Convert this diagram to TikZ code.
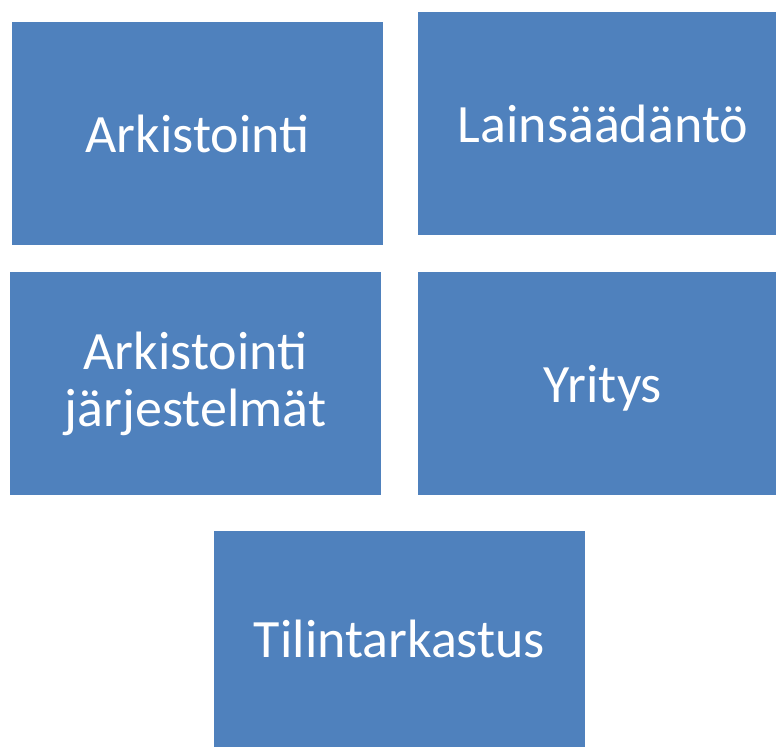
\documentclass[tikz,border=0pt]{standalone}
\usepackage{fontspec}
\setmainfont{Carlito}
\definecolor{boxblue}{HTML}{4F81BD}

\begin{document}
\begin{tikzpicture}[x=1pt, y=-1pt,
  box/.style={rectangle, fill=boxblue, text=white, inner sep=0pt, align=center,
    font=\fontsize{54}{57}\selectfont},
]

% canvas
\useasboundingbox (0,0) rectangle (776,747) ;

% upper row
\node[box, minimum width=371pt, minimum height=223pt] (arkistointi) at (197.5,133.5) {Arkistointi} ;
\node[box, minimum width=358pt, minimum height=223pt] (lainsaadanto) at (597,123.5) {\hspace*{12pt}Lainsäädäntö} ;

% middle row
\node[box, minimum width=371pt, minimum height=223pt] (jarjestelmat) at (195.5,383.5) {Arkistointi\\järjestelmät} ;
\node[box, minimum width=358pt, minimum height=223pt] (yritys) at (597,383.5) {\hspace*{12pt}\raisebox{-5pt}[\height][\depth]{Yritys}} ;

% bottom
\node[box, minimum width=371pt, minimum height=216pt] (tilintarkastus) at (399.5,639) {Tilintarkastus} ;

\end{tikzpicture}
\end{document}
